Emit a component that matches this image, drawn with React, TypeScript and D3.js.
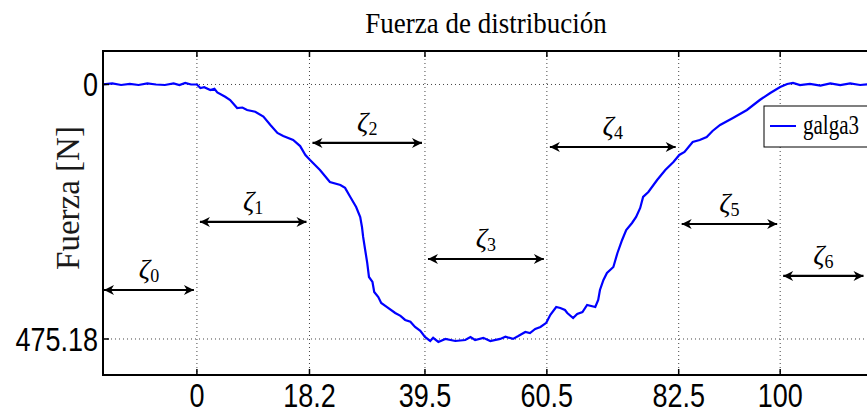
import * as React from 'react'
import * as d3 from 'd3'

const WIDTH = 867
const HEIGHT = 416
const PLOT_LEFT = 103
const PLOT_RIGHT = 905
const PLOT_TOP = 51
const PLOT_BOTTOM = 375

// x axis: tick positions (axis units) and the labels printed under them
const xTickPos = [0, 19.3, 39.1, 60, 82.6, 100]
const xTickLabels = ['0', '18.2', '39.5', '60.5', '82.5', '100']
const yTickVals = [0, 475.18]
const yTickLabels = ['0', '475.18']

// galga3 force trace
const timeVals = [
  -16.1, -14.5, -13, -11.5, -10, -8.5, -7, -5.5, -4, -3, -2, -1, 0,
  0.6, 1.25, 2.3, 3.0, 3.5, 4.85, 5.7, 6.9, 7.8, 8.6, 10, 11.4, 12.6, 13.8, 14.8, 16.5, 17.7, 18.6, 19.4,
  21.1, 22.8, 24.6, 25.4, 26.3, 27.3, 28, 28.3, 28.5, 28.85, 29.2, 29.5, 30.1, 30.4, 31.1, 31.6, 32.6,
  34, 34.9, 35.7, 36.6, 37.4, 38.3, 39.1, 40, 40.5, 41.4, 42.6, 44.3, 46, 46.9, 47.7, 49.1, 50.3,
  52, 52.9, 54.2, 55.1, 56.3, 57.1, 58, 58.9, 59.9, 60.6, 61.6, 62.3, 63.1, 63.5, 64.5, 65.2, 66.1,
  66.9, 68.3, 68.8, 69.1, 69.7, 70.3, 71.4, 72.1, 72.9, 73.6, 74.6, 75.3, 76, 76.5, 77.4, 78.9, 80.3,
  81.7, 82.7, 83.6, 85, 86.2, 87.4, 88.4, 89.7, 91.9, 94.3, 96.5, 98.3, 100, 101.2, 102.2,
  103.4, 105.1, 106.9, 108.6, 110.3, 112, 113.7, 115.5, 117.2, 119, 121.4
]
const forceVals = [
  0, -2, 1, -1, 1, -2, 0, 1, -2, 1, -3, 0, 0,
  6.5, 5, 10.3, 8, 15, 23, 29, 44, 43, 47.6, 51, 60, 75.6, 90.5, 96, 103.6, 115, 131.6, 141,
  159.6, 182, 187.6, 193, 210, 228.7, 247.4, 266, 284.7, 309, 333, 359.4, 368.7, 387.4, 396.8, 408, 415.5,
  426.6, 432, 439.6, 443, 452.8, 460, 471.4, 478.9, 473, 480.6, 475, 478.9, 477, 471.4, 477, 473, 478.9,
  475, 471, 475, 469.6, 462, 464, 456.4, 452.6, 445, 430, 415.5, 417.3, 421, 426.6, 436, 428.5, 424.8,
  411.7, 415.5, 402.4, 383.7, 365, 351.9, 340.7, 314.6, 290.3, 271.7, 258.6, 247.4, 230.6, 210, 200.7, 178.3, 159.6,
  144.7, 131.6, 126, 107.4, 103.6, 98, 86.8, 75.6, 62.5, 47.6, 29, 15.9, 4.7, -1, -2.8,
  1, -1, 2, -2, 1, -2, 1, -1, 1, -1, 0
]

// zeta interval annotations
const zetaNames = ['0', '1', '2', '3', '4', '5', '6']
const zetaStart = [-16.1, 0, 19.3, 39.1, 60, 82.6, 100]
const zetaEnd = [0, 19.3, 39.1, 60, 82.6, 100, 114.8]
const zetaLevel = [383.7, 256.7, 109.2, 325.8, 116.7, 260.5, 357.5]

const sans = "'Liberation Sans', Arial, Helvetica, sans-serif"
const serif = "'Liberation Serif', 'Times New Roman', serif"

export default function App() {
  const x = d3.scaleLinear().domain([-16.1, 121.4]).range([PLOT_LEFT, PLOT_RIGHT])
  const y = d3.scaleLinear().domain([-62.5, 542.4]).range([PLOT_TOP, PLOT_BOTTOM])
  const points: [number, number][] = timeVals.map((t, i) => [t, forceVals[i]])
  const line = d3
    .line<[number, number]>()
    .x(d => x(d[0]))
    .y(d => y(d[1]))

  return (
    <svg
      width={WIDTH}
      height={HEIGHT}
      style={{ position: 'absolute', left: 0, top: 0, background: '#fff' }}
    >
      <defs>
        <clipPath id="plot-clip">
          <rect x={PLOT_LEFT} y={PLOT_TOP} width={PLOT_RIGHT - PLOT_LEFT} height={PLOT_BOTTOM - PLOT_TOP} />
        </clipPath>
        <marker
          id="ah"
          viewBox="0 0 10 10"
          refX={10}
          refY={5}
          markerWidth={12}
          markerHeight={10}
          markerUnits="userSpaceOnUse"
          orient="auto-start-reverse"
        >
          <path d="M0,0 L10,5 L0,10 L3,5 z" fill="#000" />
        </marker>
      </defs>

      {/* title */}
      <text
        transform={`translate(486,33) scale(1,1.12)`}
        textAnchor="middle"
        fontFamily={serif}
        fontSize={27}
        fill="#000"
      >
        Fuerza de distribución
      </text>

      {/* grid */}
      <g stroke="#444" strokeWidth={1} strokeDasharray="1,3">
        {xTickPos.map(t => (
          <line key={'gx' + t} x1={x(t)} x2={x(t)} y1={PLOT_TOP} y2={PLOT_BOTTOM} />
        ))}
        {yTickVals.map(v => (
          <line key={'gy' + v} x1={PLOT_LEFT} x2={PLOT_RIGHT} y1={y(v)} y2={y(v)} />
        ))}
      </g>

      {/* data */}
      <path
        d={line(points) || ''}
        fill="none"
        stroke="#0000ff"
        strokeWidth={2.2}
        clipPath="url(#plot-clip)"
      />

      {/* zeta arrows */}
      {zetaNames.map((n, i) => {
        const x1 = x(zetaStart[i]) + (i === 0 ? 1 : 3)
        const x2 = x(zetaEnd[i]) - 3
        const ly = y(zetaLevel[i])
        const mid = (x1 + x2) / 2
        return (
          <g key={'z' + n}>
            <line
              x1={x1}
              x2={x2}
              y1={ly}
              y2={ly}
              stroke="#000"
              strokeWidth={2.2}
              markerStart="url(#ah)"
              markerEnd="url(#ah)"
            />
            <text
              x={mid}
              y={ly - 12}
              textAnchor="middle"
              fontFamily={serif}
              fill="#000"
            >
              <tspan fontStyle="italic" fontSize={28}>ζ</tspan>
              <tspan fontSize={18} dy={4}>{n}</tspan>
            </text>
          </g>
        )
      })}

      {/* frame */}
      <rect
        x={PLOT_LEFT}
        y={PLOT_TOP}
        width={PLOT_RIGHT - PLOT_LEFT}
        height={PLOT_BOTTOM - PLOT_TOP}
        fill="none"
        stroke="#000"
        strokeWidth={2}
      />
      <g stroke="#000" strokeWidth={1.5}>
        {xTickPos.map(t => (
          <g key={'tx' + t}>
            <line x1={x(t)} x2={x(t)} y1={PLOT_BOTTOM} y2={PLOT_BOTTOM - 6} />
            <line x1={x(t)} x2={x(t)} y1={PLOT_TOP} y2={PLOT_TOP + 6} />
          </g>
        ))}
        {yTickVals.map(v => (
          <line key={'ty' + v} x1={PLOT_LEFT} x2={PLOT_LEFT + 6} y1={y(v)} y2={y(v)} />
        ))}
      </g>

      {/* tick labels */}
      {xTickPos.map((t, i) => (
        <text
          key={'lx' + t}
          transform={`translate(${x(t)},407) scale(1,1.2)`}
          textAnchor="middle"
          fontFamily={sans}
          fontSize={27}
          fill="#000"
        >
          {xTickLabels[i]}
        </text>
      ))}
      {yTickVals.map((v, i) => (
        <text
          key={'ly' + v}
          transform={`translate(98,${y(v) + 12}) scale(1,1.2)`}
          textAnchor="end"
          fontFamily={sans}
          fontSize={27}
          fill="#000"
        >
          {yTickLabels[i]}
        </text>
      ))}

      {/* y axis title */}
      <text
        transform="translate(79,198) rotate(-90)"
        textAnchor="middle"
        fontFamily={serif}
        fontSize={33}
        fill="#1a1a1a"
      >
        Fuerza [N]
      </text>

      {/* legend */}
      <rect x={764} y={106} width={150} height={41} fill="#fff" stroke="#000" strokeWidth={1} />
      <line x1={770} x2={796} y1={126} y2={126} stroke="#0000ff" strokeWidth={2} />
      <text
        transform="translate(803,134) scale(1,1.25)"
        fontFamily={serif}
        fontSize={21}
        fill="#000"
      >
        galga3
      </text>
    </svg>
  )
}
